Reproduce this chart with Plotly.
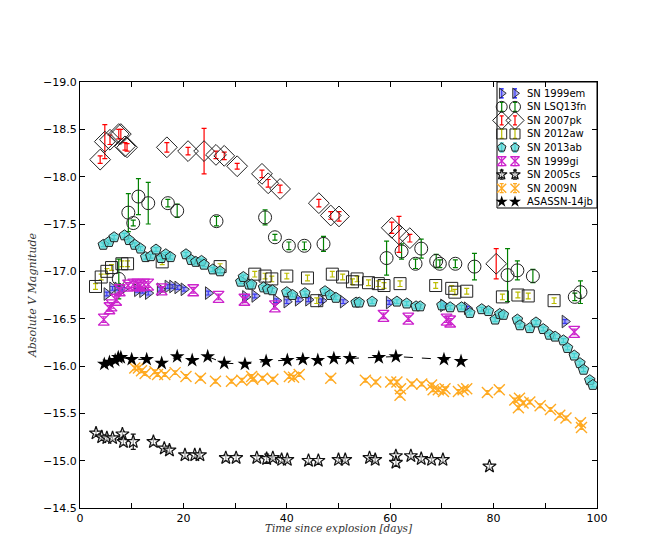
import plotly.graph_objects as go

# ---------------- data ----------------
em_t = [5.2, 6.3, 7.3, 8.2, 11.1, 12.1, 13.2, 15.5, 17.0, 17.9, 18.9, 20.1, 24.8, 32.0, 33.8,
        38.0, 40.0, 42.2, 44.2, 46.7, 50.9, 59.8, 70.3, 74.9, 93.8]
em_m = [-16.76, -16.82, -16.82, -16.81, -16.80, -16.79, -16.77, -16.81, -16.84, -16.84, -16.83, -16.81,
        -16.77, -16.73, -16.74, -16.69, -16.68, -16.70, -16.70, -16.69, -16.68, -16.67, -16.64, -16.61, -16.47]

lsq_t = [7.5, 9.35, 10.3, 11.3, 13.2, 17.0, 18.8, 26.4, 35.8, 37.7, 40.4, 43.4, 47.1, 59.3, 62.2,
         64.9, 66.0, 68.9, 69.6, 72.6, 76.3, 82.7, 84.6, 87.6, 95.7, 96.8]
lsq_m = [-16.92, -17.62, -17.51, -17.79, -17.72, -17.72, -17.64, -17.53, -17.57, -17.36, -17.27, -17.27,
         -17.29, -17.14, -17.21, -17.08, -17.24, -17.11, -17.08, -17.08, -17.05, -16.96, -17.01, -16.95,
         -16.73, -16.78]
lsq_e = [0.21, 0.20, 0.03, 0.19, 0.22, 0.04, 0.07, 0.05, 0.08, 0.03, 0.04, 0.04, 0.08, 0.18, 0.08,
         0.05, 0.10, 0.07, 0.04, 0.04, 0.14, 0.28, 0.10, 0.07, 0.04, 0.12]

pk_t = [3.9, 4.8, 5.8, 7.5, 7.9, 8.7, 9.1, 16.8, 20.9, 24.0, 26.3, 27.9, 30.4, 35.2, 36.4, 38.7,
        46.2, 48.5, 50.1, 60.3, 61.7, 63.8, 80.5]
pk_m = [-18.18, -18.37, -18.39, -18.45, -18.45, -18.32, -18.31, -18.31, -18.27, -18.27, -18.23, -18.22,
        -18.11, -18.03, -17.93, -17.87, -17.72, -17.59, -17.58, -17.46, -17.39, -17.35, -17.08]
pk_e = [0.04, 0.18, 0.05, 0.05, 0.05, 0.04, 0.04, 0.05, 0.04, 0.24, 0.04, 0.04, 0.03, 0.04, 0.04, 0.04,
        0.04, 0.04, 0.05, 0.06, 0.19, 0.04, 0.16]

aw_t = [3.0, 4.1, 5.2, 6.1, 8.1, 9.2, 15.9, 27.1, 33.8, 35.8, 37.1, 40.0, 44.0, 45.8, 48.8, 50.8,
        52.7, 53.6, 55.8, 57.7, 58.8, 61.9, 68.8, 71.9, 72.5, 74.8, 81.7, 84.7, 86.7, 91.7]
aw_m = [-16.84, -16.94, -17.00, -17.04, -17.08, -17.08, -17.10, -17.05, -16.97, -16.95, -16.92, -16.95,
        -16.93, -16.69, -16.97, -16.94, -16.89, -16.92, -16.88, -16.87, -16.85, -16.87, -16.85, -16.82,
        -16.78, -16.79, -16.73, -16.75, -16.74, -16.69]
aw_e = [0.03] * len(aw_t)

ab_t = [4.5, 5.6, 6.6, 8.6, 9.5, 10.6, 11.7, 12.7, 13.7, 14.7, 15.7, 16.6, 17.5, 20.5, 21.5, 22.4,
        23.5, 24.0, 25.7, 27.1, 31.1, 31.6, 32.7, 33.2, 35.5, 36.3, 37.2, 40.0, 41.1, 43.5, 47.4, 48.4,
        49.5, 53.4, 54.0, 56.5, 61.3, 63.2, 65.0, 65.8, 70.0, 71.6, 73.8, 75.4, 77.7, 79.0, 80.3, 81.2,
        81.9, 84.6, 85.1, 87.0, 88.2, 89.6, 90.8, 91.9, 93.5, 94.3, 95.6, 96.7, 97.4, 98.6, 99.2]
ab_m = [-17.28, -17.31, -17.36, -17.38, -17.33, -17.28, -17.24, -17.15, -17.16, -17.23, -17.14, -17.18,
        -17.15, -17.18, -17.12, -17.10, -17.11, -17.07, -17.02, -17.00, -16.89, -16.94, -16.86, -16.86,
        -16.83, -16.81, -16.80, -16.78, -16.75, -16.77, -16.79, -16.75, -16.72, -16.67, -16.67, -16.68,
        -16.68, -16.66, -16.63, -16.63, -16.64, -16.62, -16.62, -16.56, -16.60, -16.58, -16.49, -16.55,
        -16.54, -16.49, -16.43, -16.40, -16.46, -16.39, -16.33, -16.31, -16.27, -16.19, -16.11, -16.03,
        -15.96, -15.85, -15.80]

gi_t = [4.6, 5.7, 6.1, 7.0, 7.7, 9.3, 10.3, 11.1, 11.6, 12.4, 13.2, 15.8, 21.9, 26.8, 31.8, 37.7,
        58.7, 63.5, 70.9, 71.6, 95.6]
gi_m = [-16.49, -16.61, -16.64, -16.70, -16.80, -16.85, -16.86, -16.86, -16.85, -16.86, -16.86, -16.81,
        -16.80, -16.73, -16.70, -16.63, -16.53, -16.50, -16.49, -16.47, -16.36]

cs_t = [3.1, 4.2, 5.2, 6.3, 8.2, 8.4, 10.3, 14.2, 16.3, 17.3, 20.3, 22.2, 23.2, 28.2, 30.2, 34.2,
        36.1, 37.3, 39.0, 40.1, 44.2, 46.1, 50.0, 51.3, 56.0, 57.1, 61.1, 61.1, 64.0, 66.0, 68.0,
        70.2, 79.2]
cs_m = [-15.29, -15.25, -15.24, -15.24, -15.28, -15.20, -15.20, -15.20, -15.13, -15.11, -15.06, -15.06,
        -15.06, -15.03, -15.03, -15.03, -15.02, -15.03, -15.01, -15.01, -15.00, -15.00, -15.01, -15.01,
        -15.03, -15.01, -15.05, -14.98, -15.05, -15.02, -15.01, -15.01, -14.94]
cs_e = [0.02, 0.02, 0.02, 0.02, 0.03, 0.03, 0.08, 0.03, 0.02, 0.02, 0.02, 0.02, 0.02, 0.03, 0.03, 0.02,
        0.05, 0.02, 0.02, 0.02, 0.02, 0.02, 0.02, 0.02, 0.02, 0.02, 0.03, 0.03, 0.02, 0.02, 0.02, 0.02, 0.02]

n_t = [10.6, 11.3, 11.9, 12.6, 14.5, 15.0, 16.4, 18.4, 20.5, 23.3, 26.2, 29.3, 31.3, 33.2, 33.4, 35.3,
       37.3, 40.5, 41.3, 42.4, 48.5, 55.2, 57.2, 60.1, 61.3, 62.0, 61.9, 64.2, 66.1, 68.0, 68.3, 69.3,
       70.3, 70.6, 73.2, 74.1, 74.8, 78.8, 81.1, 84.1, 85.0, 84.8, 85.7, 87.0, 89.0, 91.0, 92.8, 94.0,
       96.8, 97.0]
n_m = [-15.98, -15.98, -15.95, -15.92, -15.94, -15.91, -15.91, -15.93, -15.89, -15.87, -15.84, -15.84,
       -15.85, -15.89, -15.86, -15.87, -15.86, -15.89, -15.88, -15.91, -15.87, -15.85, -15.83, -15.83,
       -15.83, -15.76, -15.69, -15.81, -15.81, -15.80, -15.75, -15.75, -15.73, -15.76, -15.73, -15.75,
       -15.76, -15.72, -15.75, -15.64, -15.66, -15.56, -15.61, -15.62, -15.58, -15.54, -15.48, -15.45,
       -15.40, -15.35]

as_t = [4.7, 5.7, 6.8, 7.4, 7.9, 10.0, 12.9, 15.8, 18.8, 21.7, 24.7, 27.9, 31.9, 36.0, 40.1, 43.1,
        46.0, 49.1, 52.2, 57.8, 61.1, 70.4, 73.7]
as_m = [-16.02, -16.04, -16.06, -16.09, -16.09, -16.07, -16.07, -16.03, -16.10, -16.06, -16.10, -16.03,
        -16.02, -16.05, -16.06, -16.07, -16.06, -16.08, -16.08, -16.09, -16.10, -16.07, -16.05]

x_ticks = [0, 10, 20, 30, 40, 50, 60, 70, 80, 90, 100]
x_ticktext = ["0", "", "20", "", "40", "", "60", "", "80", "", "100"]
y_ticks = [-19.0, -18.5, -18.0, -17.5, -17.0, -16.5, -16.0, -15.5, -15.0, -14.5]
y_ticktext = ["\u221219.0", "\u221218.5", "\u221218.0", "\u221217.5", "\u221217.0",
              "\u221216.5", "\u221216.0", "\u221215.5", "\u221215.0", "\u221214.5"]

# ---------------- styles ----------------
styles = [
    dict(name="SN 1999em", symbol="triangle-right", size=11, color="rgba(110,110,235,0.55)",
         line=dict(color="#333333", width=1), ecolor="blue"),
    dict(name="SN LSQ13fn", symbol="circle-open", size=13, color="#222222",
         line=dict(width=1), ecolor="green"),
    dict(name="SN 2007pk", symbol="diamond-open", size=16, color="#222222",
         line=dict(width=1), ecolor="red"),
    dict(name="SN 2012aw", symbol="square-open", size=12, color="#222222",
         line=dict(width=1), ecolor="#bcbd00"),
    dict(name="SN 2013ab", symbol="pentagon", size=11, color="rgba(90,215,215,0.75)",
         line=dict(color="#222222", width=1), ecolor="#00bfbf"),
    dict(name="SN 1999gi", symbol="hourglass-open", size=11, color="#cc22cc",
         line=dict(width=1.3), ecolor="#cc22cc"),
    dict(name="SN 2005cs", symbol="star", size=10, color="rgba(255,255,255,0.6)",
         line=dict(color="#111111", width=1.2), ecolor="#111111"),
    dict(name="SN 2009N", symbol="x-thin-open", size=11, color="#ffaa22",
         line=dict(width=1.4), ecolor="#ffaa22"),
    dict(name="ASASSN-14jb", symbol="star", size=11, color="black",
         line=dict(width=0), ecolor=None),
]

series = [
    (em_t, em_m, [0.02] * len(em_t)),
    (lsq_t, lsq_m, lsq_e),
    (pk_t, pk_m, pk_e),
    (aw_t, aw_m, aw_e),
    (ab_t, ab_m, [0.02] * len(ab_t)),
    (gi_t, gi_m, [0.03] * len(gi_t)),
    (cs_t, cs_m, cs_e),
    (n_t, n_m, [0.02] * len(n_t)),
    (as_t, as_m, None),
]

fig = go.Figure()

for st, (t, m, e) in zip(styles, series):
    kw = {}
    if e is not None:
        kw["error_y"] = dict(type="data", array=e, visible=True, color=st["ecolor"],
                             thickness=1.2, width=2.5)
    mode = "markers"
    if st["name"] == "ASASSN-14jb":
        mode = "lines+markers"
        kw["line"] = dict(color="black", width=1, dash="dash")
    fig.add_trace(go.Scatter(
        x=t, y=m, mode=mode, name=st["name"], showlegend=False,
        marker=dict(symbol=st["symbol"], size=st["size"], color=st["color"], line=st["line"]),
        **kw))

# ---------------- hand-built legend (overlay axes in plot-fraction units) ----------------
PW, PH = 517.0, 426.0          # plot area size in px
box_x0 = 1 - 100 / PW
box_y0 = 1 - 126 / PH
fig.add_trace(go.Scatter(
    x=[box_x0, 1, 1, box_x0, box_x0], y=[box_y0, box_y0, 1, 1, box_y0],
    xaxis="x2", yaxis="y2", mode="lines", fill="toself", fillcolor="white",
    line=dict(color="black", width=1), showlegend=False, hoverinfo="skip", cliponaxis=False))

row0 = 11.3 / PH
row_step = 13.55 / PH
mx1 = (501.7 - 80) / PW
mx2 = (515.0 - 80) / PW
tx = (525.0 - 80) / PW
for i, st in enumerate(styles):
    ry = 1 - row0 - i * row_step
    kw = {}
    if st["ecolor"]:
        kw["error_y"] = dict(type="data", array=[4.5 / PH, 4.5 / PH], visible=True,
                             color=st["ecolor"], thickness=1.2, width=2)
    sz = max(st["size"] - 2, 8)
    fig.add_trace(go.Scatter(
        x=[mx1, mx2], y=[ry, ry], xaxis="x2", yaxis="y2", mode="markers",
        marker=dict(symbol=st["symbol"], size=sz, color=st["color"], line=st["line"]),
        showlegend=False, hoverinfo="skip", cliponaxis=False, **kw))
    fig.add_annotation(x=tx, y=ry, xref="x2", yref="y2", text=st["name"], showarrow=False,
                       xanchor="left", yanchor="middle",
                       font=dict(family="DejaVu Sans", size=10, color="black"))

# x-axis title placed like the reference (close to the page's bottom edge)
fig.add_annotation(x=0.5, y=-(527.5 - 508) / PH, xref="paper", yref="paper",
                   text="<i>Time since explosion [days]</i>", showarrow=False,
                   xanchor="center", yanchor="middle",
                   font=dict(family="DejaVu Serif", size=10.5, color="#333333"))

axis_common = dict(
    showgrid=False, zeroline=False, showline=True, linecolor="black", linewidth=1,
    mirror="ticks", ticks="inside", ticklen=5, tickcolor="black", tickwidth=1,
    tickfont=dict(family="DejaVu Sans", size=11, color="black"), automargin=False,
)

fig.update_layout(
    width=665, height=534,
    margin=dict(l=80, r=68, t=82, b=26),
    paper_bgcolor="white", plot_bgcolor="white",
    template="none",
    showlegend=False,
    xaxis=dict(range=[0, 100], tickvals=x_ticks, ticktext=x_ticktext, **axis_common),
    yaxis=dict(range=[-14.5, -19.0], tickvals=y_ticks, ticktext=y_ticktext,
               title=dict(text="<i>Absolute V Magnitude</i>",
                          font=dict(family="DejaVu Serif", size=11, color="#333333"),
                          standoff=4),
               **axis_common),
    xaxis2=dict(overlaying="x", range=[0, 1], visible=False, fixedrange=True),
    yaxis2=dict(overlaying="y", range=[0, 1], visible=False, fixedrange=True),
)

fig.write_html("out.html")
